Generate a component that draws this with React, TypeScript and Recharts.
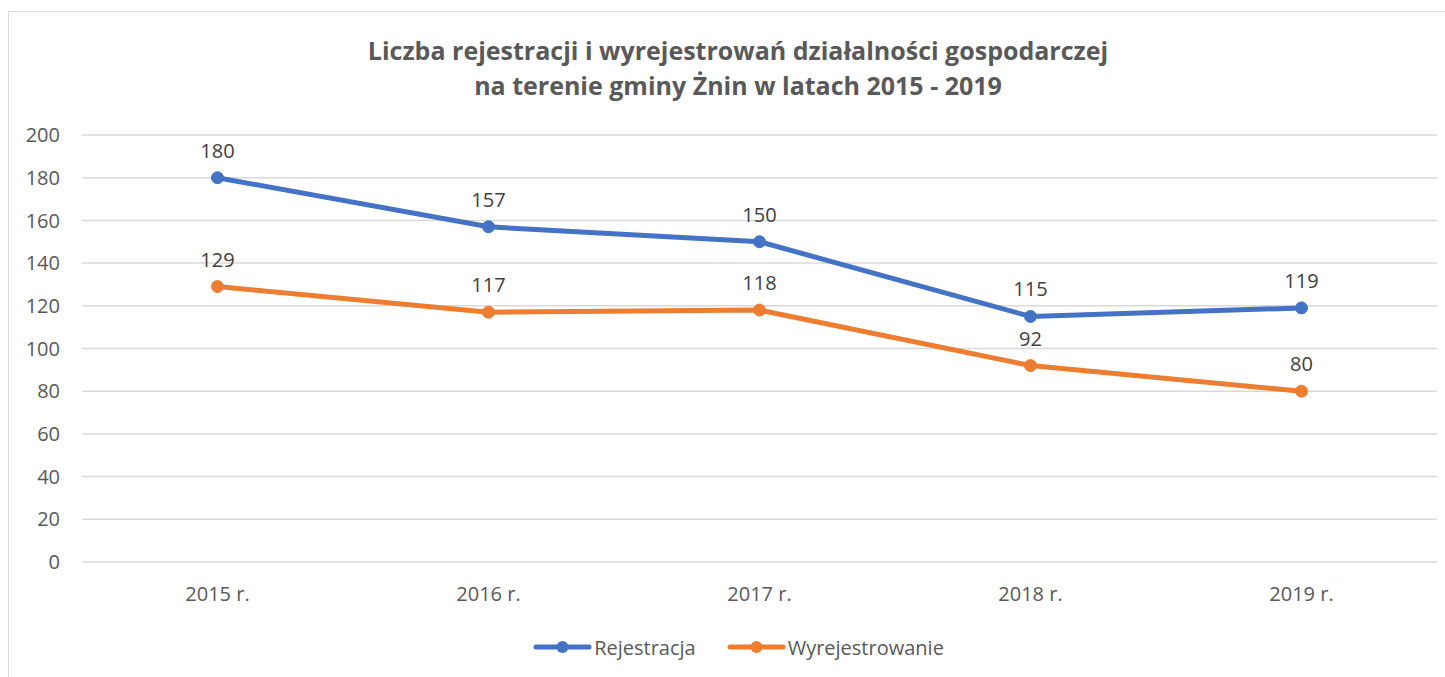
import React from 'react';
import { LineChart, Line, XAxis, YAxis, CartesianGrid, Legend, LabelList } from 'recharts';

const years = ['2015 r.', '2016 r.', '2017 r.', '2018 r.', '2019 r.'];
const rejestracja = [180, 157, 150, 115, 119];
const wyrejestrowanie = [129, 117, 118, 92, 80];
const yTicks = [0, 20, 40, 60, 80, 100, 120, 140, 160, 180, 200];

const titleLines = [
  'Liczba rejestracji i wyrejestrowań działalności gospodarczej',
  'na terenie gminy Żnin w latach 2015 - 2019',
];

const series = [
  { key: 'rej', name: 'Rejestracja', color: '#4472C4' },
  { key: 'wyr', name: 'Wyrejestrowanie', color: '#ED7D31' },
];

const data = years.map((y, i) => ({ year: y, rej: rejestracja[i], wyr: wyrejestrowanie[i] }));

const FONT = '"Open Sans", "Noto Sans", sans-serif';

const renderLegend = () => (
  <div style={{ display: 'flex', justifyContent: 'center', alignItems: 'center', fontFamily: FONT, fontSize: 20, color: '#595959', height: 40, paddingTop: 2, paddingLeft: 31 }}>
    {series.map((s, i) => (
      <div key={s.key} style={{ display: 'flex', alignItems: 'center', marginRight: i === 0 ? 31 : 0 }}>
        <svg width={59} height={14} style={{ marginRight: 2 }}>
          <line x1={3} y1={7} x2={56} y2={7} stroke={s.color} strokeWidth={5} strokeLinecap="round" />
          <circle cx={29.5} cy={7} r={6} fill={s.color} />
        </svg>
        <span>{s.name}</span>
      </div>
    ))}
  </div>
);

export default function App() {
  return (
    <div style={{ position: 'fixed', left: 0, top: 0, width: 1445, height: 677, overflow: 'hidden', background: '#fff' }}>
      <div style={{ position: 'absolute', left: 8, top: 11, width: 1500, height: 720, border: '1px solid #d9d9d9', boxSizing: 'border-box' }}>
        <div style={{ position: 'absolute', left: 0, top: 0, width: 1458, textAlign: 'center', fontFamily: FONT, fontWeight: 700, fontSize: 25, color: '#595959', lineHeight: '35px', paddingTop: 21, whiteSpace: 'nowrap' }}>
          {titleLines.map((t) => (<div key={t}>{t}</div>))}
        </div>
        <LineChart width={1436} height={664} data={data} margin={{ top: 123, right: 8, left: 0, bottom: 11 }}>
          <CartesianGrid vertical={false} stroke="#d9d9d9" strokeWidth={1.5} />
          <XAxis dataKey="year" scale="band" axisLine={false} tickLine={false} tickSize={0} tickMargin={25} height={63}
            tick={{ fill: '#595959', fontSize: 20, fontFamily: FONT }} />
          <YAxis domain={[0, 200]} ticks={yTicks} width={73} axisLine={false} tickLine={false} tickSize={0} tickMargin={22}
            tick={{ fill: '#595959', fontSize: 20, fontFamily: FONT }} interval={0} />
          <Legend verticalAlign="bottom" height={40} content={renderLegend} />
          {series.map((s) => (
            <Line key={s.key} dataKey={s.key} name={s.name} stroke={s.color} strokeWidth={5}
              dot={{ r: 6, fill: s.color, stroke: s.color, strokeWidth: 1 }} isAnimationActive={false}>
              <LabelList dataKey={s.key} position="top" offset={20} fill="#404040" fontSize={20} fontFamily={FONT} />
            </Line>
          ))}
        </LineChart>
      </div>
    </div>
  );
}
